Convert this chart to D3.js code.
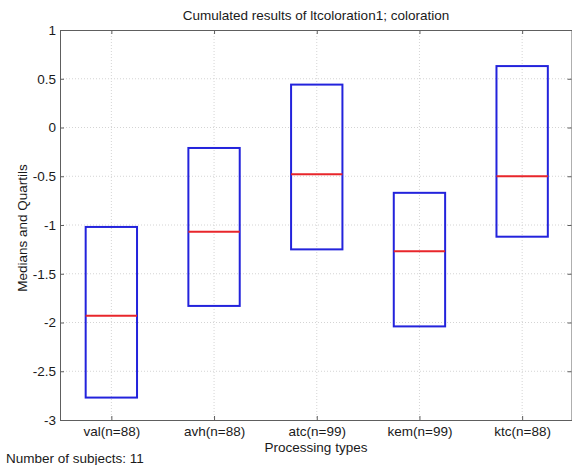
<!DOCTYPE html>
<html>
<head>
<meta charset="utf-8">
<script src="https://cdn.jsdelivr.net/npm/d3@7"></script>
<style>
  html, body { margin: 0; padding: 0; background: #fff; }
  svg { display: block; font-family: "Liberation Sans", Arial, sans-serif; }
</style>
</head>
<body>
<div id="chart"></div>
<script>
// Box chart: medians and quartiles per processing type
const categories = ['val(n=88)', 'avh(n=88)', 'atc(n=99)', 'kem(n=99)', 'ktc(n=88)'];
const q1 = [-2.77, -1.83, -1.25, -2.04, -1.12];
const medians = [-1.93, -1.07, -0.48, -1.27, -0.50];
const q3 = [-1.02, -0.21, 0.44, -0.67, 0.63];
const yTicks = [1, 0.5, 0, -0.5, -1, -1.5, -2, -2.5, -3];

const width = 572, height = 465;
const margin = { top: 30, right: 0, bottom: 45, left: 60 };
const fontSize = '13.5px';

const svg = d3.select('#chart').append('svg')
  .attr('width', width)
  .attr('height', height);

const x = d3.scaleLinear().domain([0.5, 5.5]).range([margin.left, 573.5]);
const y = d3.scaleLinear().domain([-3, 1]).range([height - margin.bottom, margin.top]);

const x0 = margin.left, x1 = 573.5, y0 = margin.top, y1 = height - margin.bottom;
const axisColor = '#5e5e5e';

// Grid
const grid = svg.append('g');
grid.selectAll('line.gy')
  .data(yTicks.filter(d => d > -3 && d < 1))
  .join('line')
  .attr('x1', x0).attr('x2', x1)
  .attr('y1', d => y(d)).attr('y2', d => y(d))
  .attr('stroke', '#d4d4d4').attr('stroke-width', 1)
  .attr('stroke-dasharray', '1,2');
grid.selectAll('line.gx')
  .data(d3.range(1, 6))
  .join('line')
  .attr('y1', y0).attr('y2', y1)
  .attr('x1', d => x(d)).attr('x2', d => x(d))
  .attr('stroke', '#d4d4d4').attr('stroke-width', 1)
  .attr('stroke-dasharray', '1,2');

// Boxes
const boxW = 0.25;
const boxes = svg.append('g');
boxes.selectAll('rect')
  .data(categories)
  .join('rect')
  .attr('x', (d, i) => x(i + 1 - boxW))
  .attr('width', (d, i) => x(i + 1 + boxW) - x(i + 1 - boxW))
  .attr('y', (d, i) => y(q3[i]))
  .attr('height', (d, i) => y(q1[i]) - y(q3[i]))
  .attr('fill', 'none')
  .attr('stroke', '#2323dc')
  .attr('stroke-width', 2);
boxes.selectAll('line')
  .data(categories)
  .join('line')
  .attr('x1', (d, i) => x(i + 1 - boxW))
  .attr('x2', (d, i) => x(i + 1 + boxW))
  .attr('y1', (d, i) => y(medians[i]))
  .attr('y2', (d, i) => y(medians[i]))
  .attr('stroke', '#e8262b')
  .attr('stroke-width', 2);

// Axes (MATLAB style box with inward ticks)
const tickLen = 4;
const yAxisL = d3.axisLeft(y).tickValues(yTicks).tickSizeInner(-tickLen).tickSizeOuter(0)
  .tickPadding(4).tickFormat(d => String(d));
const yAxisR = d3.axisRight(y).tickValues(yTicks).tickSizeInner(-tickLen).tickSizeOuter(0).tickFormat('');
const xAxisB = d3.axisBottom(x).tickValues(d3.range(1, 6)).tickSizeInner(-tickLen).tickSizeOuter(0)
  .tickPadding(6).tickFormat(d => categories[d - 1]);
const xAxisT = d3.axisTop(x).tickValues(d3.range(1, 6)).tickSizeInner(-tickLen).tickSizeOuter(0).tickFormat('');

function styleAxis(g) {
  g.select('.domain').attr('stroke', axisColor);
  g.selectAll('.tick line').attr('stroke', axisColor);
  g.selectAll('.tick text').attr('fill', '#1a1a1a').style('font-size', fontSize)
    .style('font-family', '"Liberation Sans", Arial, sans-serif');
}

svg.append('g').attr('transform', `translate(${x0},0)`).call(yAxisL).call(styleAxis);
svg.append('g').attr('transform', `translate(${x1 - 2},0)`).call(yAxisR).call(styleAxis);
svg.append('g').attr('transform', `translate(0,${y1})`).call(xAxisB).call(styleAxis);
svg.append('g').attr('transform', `translate(0,${y0})`).call(xAxisT).call(styleAxis);

// Titles
svg.append('text')
  .attr('x', (x0 + 572) / 2).attr('y', 20)
  .attr('text-anchor', 'middle')
  .style('font-size', fontSize).attr('fill', '#1a1a1a')
  .text('Cumulated results of ltcoloration1; coloration');

svg.append('text')
  .attr('x', (x0 + 572) / 2).attr('y', 452)
  .attr('text-anchor', 'middle')
  .style('font-size', fontSize).attr('fill', '#1a1a1a')
  .text('Processing types');

svg.append('text')
  .attr('transform', `translate(27,${(y0 + y1) / 2 + 3}) rotate(-90)`)
  .attr('text-anchor', 'middle')
  .style('font-size', fontSize).attr('fill', '#1a1a1a')
  .text('Medians and Quartils');

svg.append('text')
  .attr('x', 6).attr('y', 463)
  .style('font-size', fontSize).attr('fill', '#1a1a1a')
  .text('Number of subjects: 11');
</script>
</body>
</html>
